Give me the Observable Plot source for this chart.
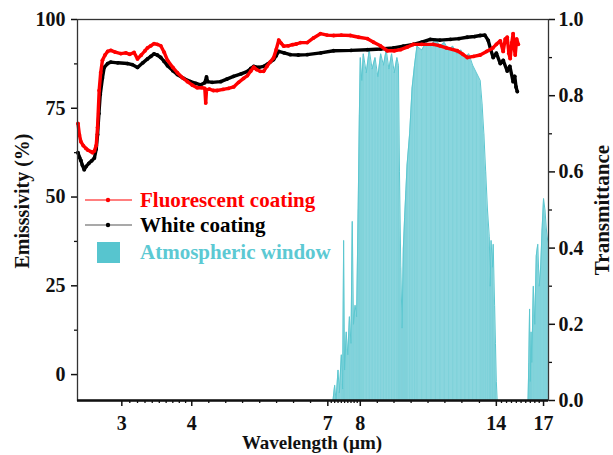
<!DOCTYPE html>
<html>
<head>
<meta charset="utf-8">
<script src="https://cdn.jsdelivr.net/npm/d3@7"></script>
<script src="https://cdn.jsdelivr.net/npm/@observablehq/plot@0.6"></script>
<style>
  html, body { margin: 0; padding: 0; background: #fff; }
  #chart { position: relative; width: 613px; height: 455px; }
</style>
</head>
<body>
<div id="chart"></div>
<script>
// ---- Data ----
const fluoWl = [2.505, 2.52, 2.535, 2.56, 2.588, 2.61, 2.641, 2.66, 2.68, 2.70, 2.715, 2.733, 2.75, 2.77, 2.80, 2.83, 2.867, 2.92, 2.988, 3.05, 3.10, 3.155, 3.20, 3.25, 3.30, 3.334, 3.38, 3.425, 3.47, 3.521, 3.57, 3.62, 3.70, 3.77, 3.85, 3.93, 4.01, 4.09, 4.17, 4.22, 4.236, 4.25, 4.30, 4.37, 4.44, 4.55, 4.65, 4.752, 4.85, 4.95, 5.03, 5.10, 5.16, 5.22, 5.30, 5.375, 5.45, 5.52, 5.60, 5.66, 5.72, 5.78, 5.84, 5.95, 6.05, 6.15, 6.26, 6.43, 6.60, 6.79, 6.98, 7.17, 7.40, 7.68, 7.95, 8.24, 8.45, 8.69, 8.94, 9.20, 9.44, 9.70, 9.95, 10.3, 10.8, 11.1, 11.4, 11.92, 12.2, 12.42, 12.75, 13.1, 13.45, 13.8, 14.0, 14.23, 14.4, 14.52, 14.64, 14.74, 14.82, 14.92, 15.0, 15.07, 15.13, 15.22, 15.32];
const fluoE  = [70.7, 67.5, 65.6, 64.5, 63.7, 63.2, 62.8, 62.5, 63.0, 64.5, 69.6, 80.0, 85.0, 88.5, 90.0, 91.0, 91.3, 90.8, 90.4, 90.6, 90.2, 90.7, 88.9, 90.0, 91.2, 92.0, 92.6, 93.2, 93.0, 92.6, 90.8, 88.5, 86.5, 85.0, 83.6, 82.5, 81.5, 80.8, 80.8, 80.6, 76.5, 80.2, 80.4, 80.0, 80.0, 80.3, 80.6, 81.0, 82.3, 83.4, 84.2, 85.5, 86.6, 85.9, 85.4, 85.4, 86.8, 88.0, 89.2, 91.5, 94.2, 93.3, 92.5, 92.6, 92.9, 93.1, 93.5, 93.5, 94.8, 96.0, 95.6, 95.5, 95.6, 95.5, 95.0, 94.6, 93.6, 92.6, 91.2, 91.2, 91.5, 92.2, 93.0, 93.0, 93.0, 92.6, 92.0, 91.2, 90.2, 89.3, 89.6, 90.0, 91.0, 92.0, 93.0, 94.0, 91.0, 94.5, 95.0, 90.5, 89.0, 93.5, 96.0, 92.0, 90.0, 94.5, 93.0];

const whiteWl = [2.505, 2.52, 2.535, 2.55, 2.57, 2.59, 2.62, 2.65, 2.68, 2.70, 2.715, 2.73, 2.745, 2.77, 2.79, 2.83, 2.867, 2.95, 3.07, 3.13, 3.20, 3.27, 3.334, 3.38, 3.425, 3.47, 3.521, 3.57, 3.62, 3.70, 3.77, 3.87, 3.98, 4.07, 4.15, 4.22, 4.25, 4.27, 4.35, 4.505, 4.62, 4.75, 4.90, 5.03, 5.10, 5.16, 5.27, 5.375, 5.48, 5.60, 5.66, 5.72, 5.85, 6.0, 6.2, 6.43, 6.8, 7.17, 7.7, 8.24, 8.7, 9.17, 9.55, 9.95, 10.3, 10.67, 11.1, 11.59, 12.0, 12.42, 12.8, 13.1, 13.35, 13.54, 13.68, 13.82, 14.0, 14.23, 14.4, 14.64, 14.8, 15.0, 15.1, 15.18, 15.26];
const whiteE  = [62.5, 61.2, 60.3, 59.0, 57.7, 58.6, 59.5, 60.2, 61.0, 63.5, 67.6, 73.5, 78.9, 83.5, 86.5, 87.6, 88.0, 87.8, 87.6, 87.3, 86.5, 87.8, 88.9, 89.6, 90.3, 90.0, 89.3, 88.2, 87.0, 85.6, 84.5, 83.4, 82.5, 82.0, 81.6, 82.2, 83.8, 82.5, 82.3, 82.5, 83.2, 84.0, 84.7, 85.4, 86.2, 86.8, 86.5, 86.8, 87.6, 88.7, 89.8, 91.0, 90.6, 90.1, 90.0, 90.1, 90.6, 91.2, 91.3, 91.5, 91.7, 92.0, 92.5, 93.0, 93.6, 94.4, 94.2, 94.4, 94.6, 95.0, 95.2, 95.5, 95.6, 94.1, 91.5, 89.3, 90.5, 87.6, 88.5, 85.5, 86.8, 82.5, 84.0, 81.0, 79.7];

const transWl = [2.5, 7.15, 7.2, 7.24, 7.3, 7.34, 7.4, 7.44, 7.47, 7.5, 7.55, 7.6, 7.65, 7.7, 7.74, 7.78, 7.83, 7.88, 7.93, 7.97, 8.0, 8.05, 8.1, 8.2, 8.3, 8.4, 8.5, 8.6, 8.7, 8.8, 8.9, 9.0, 9.1, 9.2, 9.3, 9.36, 9.4, 9.45, 9.5, 9.55, 9.6, 9.65, 9.7, 9.8, 9.9, 10.0, 10.1, 10.3, 10.5, 10.7, 10.9, 11.1, 11.3, 11.5, 11.7, 11.9, 12.1, 12.3, 12.5, 12.7, 12.9, 13.1, 13.2, 13.3, 13.4, 13.5, 13.6, 13.65, 13.7, 13.78, 13.82, 13.9, 13.95, 14.0, 14.05, 15.95, 16.0, 16.05, 16.1, 16.15, 16.2, 16.3, 16.4, 16.5, 16.6, 16.7, 16.8, 16.9, 17.0, 17.1, 17.2, 17.35];
const transT  = [0, 0, 0.04, 0.0, 0.08, 0.02, 0.12, 0.03, 0.42, 0.08, 0.18, 0.12, 0.22, 0.15, 0.47, 0.2, 0.25, 0.22, 0.5, 0.75, 0.90, 0.84, 0.91, 0.86, 0.92, 0.87, 0.90, 0.85, 0.91, 0.88, 0.92, 0.87, 0.91, 0.86, 0.90, 0.88, 0.6, 0.35, 0.19, 0.40, 0.48, 0.55, 0.62, 0.70, 0.82, 0.88, 0.93, 0.92, 0.94, 0.93, 0.95, 0.93, 0.94, 0.92, 0.93, 0.91, 0.92, 0.90, 0.91, 0.88, 0.86, 0.84, 0.78, 0.70, 0.60, 0.50, 0.43, 0.30, 0.42, 0.35, 0.41, 0.25, 0.15, 0.05, 0, 0, 0.10, 0.24, 0.05, 0.18, 0.10, 0.30, 0.20, 0.38, 0.41, 0.30, 0.35, 0.45, 0.53, 0.50, 0.45, 0.40];

const xTicks = [3, 4, 7, 8, 14, 17];
const xMinor = [3.1, 3.2, 3.3, 3.4, 3.5, 3.6, 3.7, 3.8, 3.9, 4.29, 4.60, 4.93, 5.29, 5.67, 6.08, 6.52, 7.1, 7.2, 7.3, 7.4, 7.5, 7.6, 7.7, 7.8, 7.9, 8.58, 9.19, 9.86, 10.57, 11.33, 12.15, 13.06, 14.3, 14.6, 14.9, 15.2, 15.5, 15.8, 16.1, 16.4, 16.7];
const eTicks = [0, 25, 50, 75, 100];
const eMinor = [12.5, 37.5, 62.5, 87.5];
const tTicks = [0, 0.2, 0.4, 0.6, 0.8, 1.0];
const tMinor = [0.1, 0.3, 0.5, 0.7, 0.9];

const seriesNames = ["Fluorescent coating", "White coating", "Atmospheric window"];
const seriesColors = ["#ff0000", "#000000", "#57c5cf"];

// ---- build tables ----
const fluo = fluoWl.map((w, i) => ({w, e: fluoE[i]}));
const white = whiteWl.map((w, i) => ({w, e: whiteE[i]}));
const trans = transWl.map((w, i) => ({w, t: transT[i]}));

const yMin = -7.3, yMax = 100;
const tConv = t => yMin + t * (yMax - yMin);
const font = "'Liberation Serif', 'Times New Roman', serif";

const plot = Plot.plot({
  width: 613,
  height: 455,
  marginLeft: 77,
  marginRight: 65,
  marginTop: 19,
  marginBottom: 55,
  style: {fontFamily: font, fontWeight: "bold", fontSize: "20px", color: "#111", background: "#fff"},
  x: {type: "log", domain: [2.5, 17.35]},
  y: {type: "linear", domain: [yMin, yMax]},
  marks: [
    Plot.areaY(trans, {x: "w", y1: yMin, y2: d => tConv(d.t), fill: "#8ad6de", curve: "linear"}),
    Plot.ruleX(trans.filter(d => d.t > 0), {x: "w", y1: yMin, y2: d => tConv(d.t), stroke: "#5cc7d0", strokeWidth: 1, strokeOpacity: 0.25}),
    Plot.line(trans, {x: "w", y: d => tConv(d.t), stroke: "#5cc7d0", strokeWidth: 1}),
    Plot.line(white, {x: "w", y: "e", stroke: "#000", strokeWidth: 3.4}),
    Plot.dot(white, {x: "w", y: "e", r: 1.9, fill: "#000"}),
    Plot.line(fluo, {x: "w", y: "e", stroke: "#ff0000", strokeWidth: 3.4}),
    Plot.dot(fluo, {x: "w", y: "e", r: 1.9, fill: "#ff0000"}),
    Plot.axisX(xTicks, {anchor: "bottom", tickSize: 6, strokeWidth: 1.5, tickFormat: () => "", label: null}),
    Plot.text(xTicks, {x: d => d, y: yMin, dy: 23, text: d => String(d), fontSize: 20, fontWeight: "bold", fill: "#111", textAnchor: "middle"}),
    Plot.axisX(xMinor, {anchor: "bottom", tickSize: 3, strokeWidth: 1.3, tickFormat: () => "", label: null}),
    Plot.axisY(eTicks, {anchor: "left", tickSize: 6, tickPadding: 6, strokeWidth: 1.5, label: null, fontSize: 20}),
    Plot.axisY(eMinor, {anchor: "left", tickSize: 3, strokeWidth: 1.3, tickFormat: () => "", label: null}),
    Plot.axisY(tTicks.map(tConv), {anchor: "right", tickSize: 6, tickPadding: 4, strokeWidth: 1.5, label: null, fontSize: 20,
      tickFormat: v => ((v - yMin) / (yMax - yMin)).toFixed(1)}),
    Plot.axisY(tMinor.map(tConv), {anchor: "right", tickSize: 3, strokeWidth: 1.3, tickFormat: () => "", label: null}),
    Plot.frame({stroke: "#333", strokeWidth: 1.3}),
    Plot.ruleY([yMin], {stroke: "#111", strokeWidth: 2.5})
  ]
});

document.getElementById("chart").appendChild(plot);

// ---- axis titles and legend ----
const svg = d3.select(plot);
const g = svg.append("g").attr("font-family", font).attr("font-weight", "bold").attr("text-anchor", "start");

g.append("text").attr("x", 312).attr("y", 449).attr("text-anchor", "middle")
  .attr("font-size", 19).attr("fill", "#111").text("Wavelength (\u00b5m)");
g.append("text").attr("transform", "translate(29,201) rotate(-90)").attr("text-anchor", "middle")
  .attr("font-size", 20).attr("fill", "#111").text("Emisssivity (%)");
g.append("text").attr("transform", "translate(609,210) rotate(-90)").attr("text-anchor", "middle")
  .attr("font-size", 21).attr("fill", "#111").text("Transmittance");

// legend
const lg = g.append("g").attr("text-anchor", "start");
lg.append("line").attr("x1", 85).attr("x2", 132).attr("y1", 200).attr("y2", 200).attr("stroke", seriesColors[0]).attr("stroke-width", 1.2);
lg.append("circle").attr("cx", 108).attr("cy", 200).attr("r", 2.2).attr("fill", seriesColors[0]);
lg.append("text").attr("x", 140).attr("y", 207).attr("font-size", 21).attr("fill", seriesColors[0]).text(seriesNames[0]);

lg.append("line").attr("x1", 85).attr("x2", 132).attr("y1", 225).attr("y2", 225).attr("stroke", "#555").attr("stroke-width", 1.2);
lg.append("circle").attr("cx", 108).attr("cy", 225).attr("r", 2.2).attr("fill", seriesColors[1]);
lg.append("text").attr("x", 140).attr("y", 232).attr("font-size", 21).attr("fill", seriesColors[1]).text(seriesNames[1]);

lg.append("rect").attr("x", 97).attr("y", 242).attr("width", 23).attr("height", 21).attr("fill", seriesColors[2]);
lg.append("text").attr("x", 140).attr("y", 259).attr("font-size", 21).attr("fill", "#5cc9d3").text(seriesNames[2]);
</script>
</body>
</html>
